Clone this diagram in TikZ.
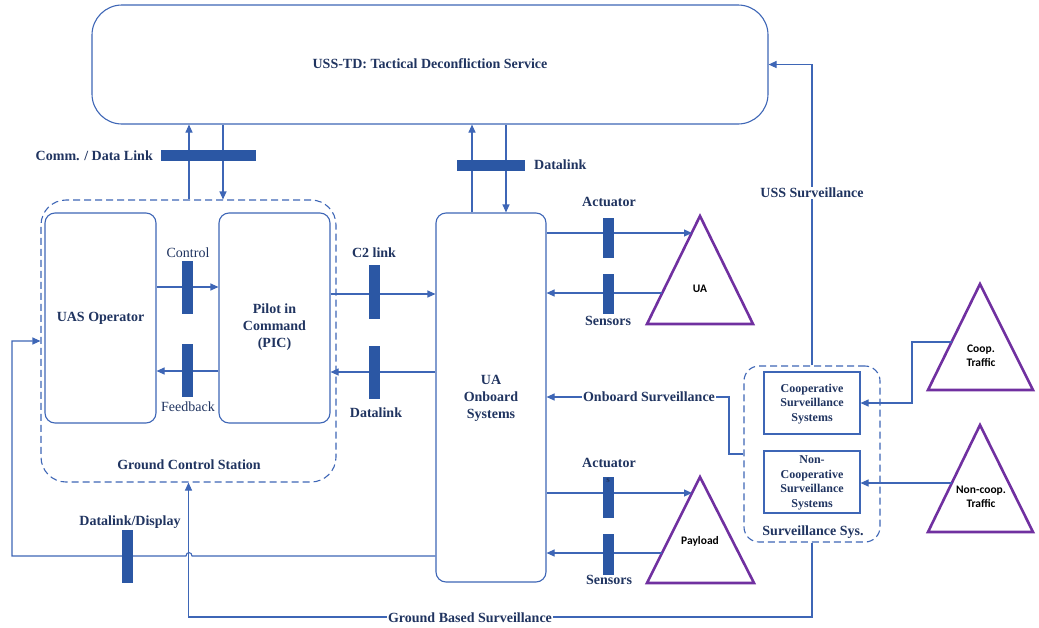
\documentclass[tikz,border=0pt]{standalone}
\usepackage{fontspec}
\setmainfont{Liberation Serif}
\newfontfamily\labelsans{Carlito}
\usetikzlibrary{arrows.meta}
\definecolor{linkblue}{RGB}{62,102,182}
\definecolor{barblue}{RGB}{43,87,164}
\definecolor{inkblue}{RGB}{32,52,96}
\definecolor{tripurple}{RGB}{112,48,160}
\tikzset{
  box/.style={draw=linkblue, line width=1.1pt, rounded corners=10pt, inner sep=0pt},
  group/.style={draw=linkblue, line width=1.1pt, dash pattern=on 7pt off 4pt, inner sep=0pt},
  conn/.style={draw=linkblue, line width=1.1pt},
  arr/.style={conn, -{Triangle[length=8pt,width=7pt]}},
  linkbar/.style={fill=barblue, draw=none, inner sep=0pt, minimum width=11pt},
  lbl/.style={text=inkblue, font=\fontsize{14}{17}\selectfont\bfseries, inner sep=1pt, align=center},
  plain/.style={text=inkblue, font=\fontsize{14}{17}\selectfont, inner sep=1pt},
  small/.style={text=inkblue, font=\fontsize{12}{14.5}\selectfont\bfseries, inner sep=0pt, align=center},
  tri/.style={draw=tripurple, line width=2.6pt, line join=miter},
  trilbl/.style={font=\labelsans\fontsize{11.5}{14}\selectfont\bfseries, text=black, align=center, inner sep=0pt},
  gap/.style={fill=white, inner sep=1pt}
}
\begin{document}
\begin{tikzpicture}[x=1pt,y=-1pt]
\useasboundingbox (0,0) rectangle (1039,627);

% --- main blocks ---
\node[box, rounded corners=30pt, minimum width=676pt, minimum height=119pt] (uss) at (430,64.5) {};
\node[lbl] (usst) at (430,64) {USS-TD: Tactical Deconfliction Service};

\node[group, rounded corners=25pt, minimum width=295pt, minimum height=282pt] (gcs) at (188.5,341) {};
\node[lbl] (gcst) at (189,465) {Ground Control Station};
\node[box, minimum width=111pt, minimum height=210pt] (op) at (100.5,318) {};
\node[lbl] (opt) at (100.5,318) {UAS Operator};
\node[box, minimum width=111pt, minimum height=210pt] (pic) at (274.5,318) {};
\node[lbl] (pict) at (274.5,327) {Pilot in\\Command\\(PIC)};

\node[box, minimum width=110pt, minimum height=369pt] (obs) at (491,397.5) {};
\node[lbl] (obst) at (491,398) {UA\\Onboard\\Systems};

\node[group, rounded corners=15pt, minimum width=136pt, minimum height=176pt] (ss) at (812,454) {};
\node[lbl] (sst) at (813,532) {Surveillance Sys.};
\node[draw=linkblue, line width=1.1pt, minimum width=96pt, minimum height=62pt, inner sep=0pt] (coop) at (812,403) {};
\node[small] (coopt) at (812,404) {Cooperative\\Surveillance\\Systems};
\node[draw=linkblue, line width=1.1pt, minimum width=96pt, minimum height=62pt, inner sep=0pt] (ncoop) at (812,482) {};
\node[small] (ncoopt) at (812,483) {Non-\\Cooperative\\Surveillance\\Systems};

% --- vehicles and traffic ---
\draw[tri] (700,216) -- (753,324) -- (647,324) -- cycle;
\node[trilbl] (uat) at (700,289) {UA};
\coordinate (uaA) at (692,233);
\coordinate (uaS) at (662,293);
\draw[tri] (700,477) -- (754,583) -- (647,583) -- cycle;
\node[trilbl] (plt) at (700,541) {Payload};
\coordinate (plA) at (692,493);
\coordinate (plS) at (662,553);
\draw[tri] (980,284) -- (1033,390) -- (928,390) -- cycle;
\node[trilbl] (cpt) at (981,356) {Coop.\\Traffic};
\coordinate (cpS) at (951.5,342);
\draw[tri] (980,425) -- (1033,532) -- (928,532) -- cycle;
\node[trilbl] (nct) at (981,497) {Non-coop.\\Traffic};
\coordinate (ncS) at (952,483);

% --- links to the deconfliction service ---
\draw[arr] (gcs.north -| 189,0) -- (uss.south -| 189,0);
\draw[arr] (uss.south -| 223,0) -- (gcs.north -| 223,0);
\node[linkbar, minimum width=95pt, minimum height=11pt] (b1) at (208.5,155.5) {};
\node[lbl, anchor=east] (b1t) at (154,156) {Comm. / Data Link};

\draw[arr] (obs.north -| 472,0) -- (uss.south -| 472,0);
\draw[arr] (uss.south -| 506,0) -- (obs.north -| 506,0);
\node[linkbar, minimum width=68pt, minimum height=11pt] (b2) at (491,165.5) {};
\node[lbl, anchor=west] (b2t) at (533,165) {Datalink};

% --- ground control station links ---
\draw[arr] (op.east |- 0,287) -- (pic.west |- 0,287);
\node[linkbar, minimum height=53pt] (bc) at (187.5,287.5) {};
\node[plain] (bct) at (188,253) {Control};
\draw[arr] (pic.west |- 0,371) -- (op.east |- 0,371);
\node[linkbar, minimum height=53pt] (bf) at (187.5,370.5) {};
\node[plain] (bft) at (188,407) {Feedback};

\draw[arr] (pic.east |- 0,294) -- (obs.west |- 0,294);
\node[linkbar, minimum height=54pt] (bc2) at (374.5,292) {};
\node[lbl] (bc2t) at (374,253) {C2 link};
\draw[arr] (obs.west |- 0,372) -- (pic.east |- 0,372);
\node[linkbar, minimum height=53pt] (bd) at (374.5,372.5) {};
\node[lbl] (bdt) at (376,413) {Datalink};

% --- onboard actuators and sensors ---
\draw[arr] (obs.east |- uaA) -- (uaA);
\node[linkbar, minimum height=40pt] (ba1) at (608.5,238) {};
\node[lbl] (ba1t) at (609,202) {Actuator};
\draw[arr] (uaS) -- (obs.east |- uaS);
\node[linkbar, minimum height=40pt] (bs1) at (608.5,294) {};
\node[lbl] (bs1t) at (608,321) {Sensors};

\draw[arr] (obs.east |- plA) -- (plA);
\node[linkbar, minimum height=41pt] (ba2) at (608.5,497.5) {};
\node[lbl] (ba2t) at (609,463) {Actuator};
\node[text=inkblue, font=\fontsize{9}{10}\selectfont\bfseries, inner sep=0pt] (ba2s) at (608,480) {s};
\draw[arr] (plS) -- (obs.east |- plS);
\node[linkbar, minimum height=41pt] (bs2) at (608.5,554.5) {};
\node[lbl] (bs2t) at (609,580) {Sensors};

% --- surveillance feeds ---
\draw[arr] (cpS) -- (912,342) |- (coop.east);
\draw[arr] (ncS) -- (ncoop.east |- ncS);

\node[lbl] (onb) at (649,397) {Onboard Surveillance};
\draw[conn] (ss.west) -- (729,454) |- (onb.east);
\draw[arr] (onb.west) -- (obs.east |- onb.west);

\draw[arr] (ss.north) -- (ss.north |- uss.east) -- (uss.east);
\node[lbl, gap] (usl) at (812,193) {USS Surveillance};

\draw[arr] (ss.south) -- (ss.south |- 0,617) -| (gcs.south);
\node[lbl, gap] (gbl) at (470,618) {Ground Based Surveillance};

% datalink / display feed, hopping over the ground surveillance line
\draw[arr] (obs.west |- 0,556) -- (192,556) .. controls (192,551.5) and (186,551.5) .. (186,556) -- (12,556) |- (gcs.west);
\node[linkbar, minimum height=53pt] (bdd) at (127.5,556.5) {};
\node[lbl] (bddt) at (130,522) {Datalink/Display};
\end{tikzpicture}
\end{document}
